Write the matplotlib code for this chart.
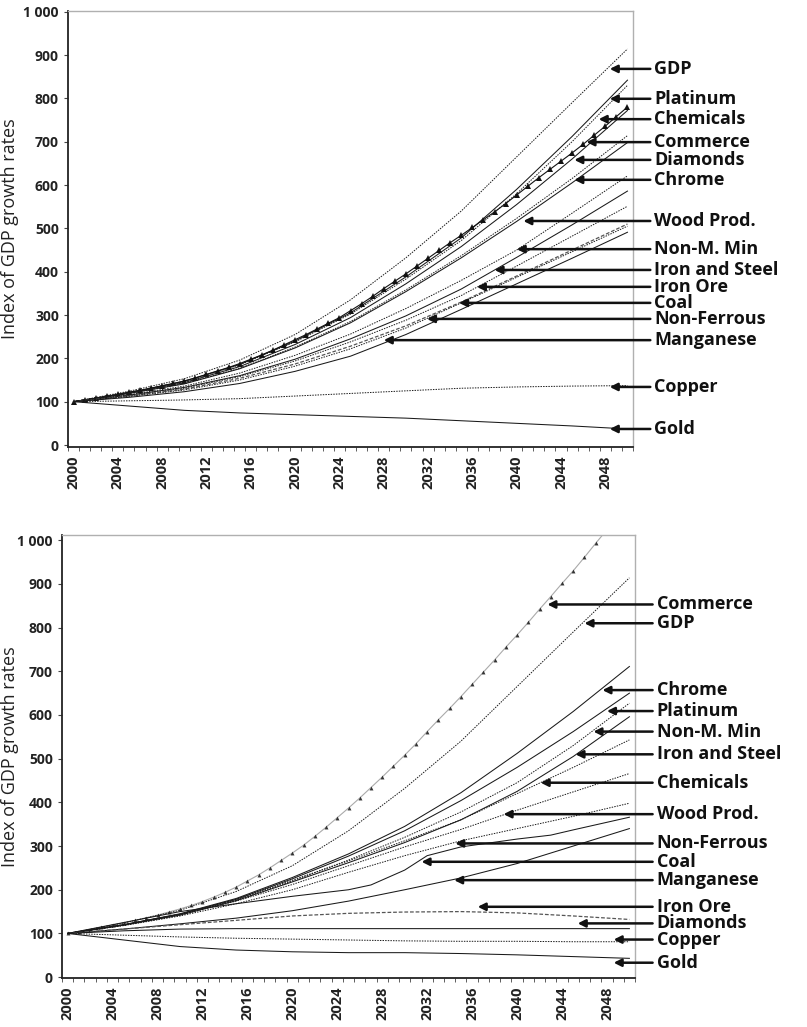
import numpy as np
import matplotlib
matplotlib.use("Agg")
import matplotlib.pyplot as plt
from matplotlib.ticker import FuncFormatter, FixedLocator

plt.rcParams['font.family'] = ['Open Sans', 'DejaVu Sans']

years5 = [2000, 2005, 2010, 2015, 2020, 2025, 2030, 2035, 2040, 2045, 2050]
years1 = list(range(2000, 2051))
years_kink = [2000, 2005, 2010, 2015, 2020, 2025, 2027, 2030, 2032, 2035, 2040, 2043, 2045, 2050]

# ---- top chart ----
top_gdp = [100, 124, 153, 196, 255, 335, 432, 540, 665, 790, 914]
top_platinum = [100, 121, 147, 186, 240, 305, 388, 478, 590, 712, 842]
top_chemicals = [100, 121, 146, 185, 238, 302, 383, 472, 580, 700, 830]
top_commerce = [100, 104, 108, 112, 117, 122, 126, 131, 137, 142, 148, 155, 163,
                171, 179, 188, 198, 208, 219, 231, 243, 255, 268, 281, 294, 310,
                326, 343, 361, 378, 395, 413, 431, 449, 467, 484, 502, 520, 538,
                557, 577, 597, 617, 636, 655, 674, 694, 715, 736, 758, 780]
top_diamonds = [100, 120, 144, 181, 232, 294, 372, 458, 555, 660, 772]
top_chrome = [100, 119, 142, 177, 226, 285, 358, 437, 523, 615, 714]
top_wood = [100, 119, 141, 176, 224, 282, 354, 432, 516, 605, 698]
top_nonm = [100, 116, 136, 166, 207, 256, 315, 380, 450, 535, 621]
top_steel = [100, 115, 133, 160, 198, 245, 298, 360, 433, 508, 586]
top_ironore = [100, 114, 131, 158, 194, 238, 288, 345, 413, 482, 551]
top_coal = [100, 113, 129, 154, 187, 228, 275, 330, 390, 450, 510]
top_nonferrous = [100, 112, 127, 150, 182, 222, 270, 328, 387, 446, 505]
top_manganese = [100, 110, 123, 142, 170, 205, 255, 313, 372, 431, 491]
top_copper = [100, 102, 104, 107, 113, 119, 125, 131, 134, 136, 137]
top_gold = [100, 90, 80, 74, 70, 66, 62, 56, 50, 44, 37]

top_labels = ["GDP", "Platinum", "Chemicals", "Commerce", "Diamonds", "Chrome",
              "Wood Prod.", "Non-M. Min", "Iron and Steel", "Iron Ore", "Coal",
              "Non-Ferrous", "Manganese", "Copper", "Gold"]
top_tip_year = [2048.4, 2048.4, 2047.4, 2046.3, 2045.2, 2045.2, 2040.6, 2040.0,
                2038.0, 2036.4, 2034.8, 2031.9, 2028.0, 2048.4, 2048.4]
top_tip_value = [868, 799, 752, 699, 658, 612, 517, 452, 404, 365, 328, 291, 242, 134, 37]

# ---- bottom chart ----
bot_commerce = [100, 104, 109, 114, 119, 124, 130, 136, 142, 149, 156, 164, 173,
                183, 194, 206, 220, 234, 250, 267, 284, 302, 322, 343, 365, 387,
                410, 434, 458, 483, 508, 534, 562, 589, 615, 642, 670, 698, 726,
                755, 783, 812, 842, 871, 901, 930, 961, 993, 1024, 1055, 1087]
bot_gdp = [100, 124, 153, 196, 255, 335, 432, 540, 665, 790, 914]
bot_chrome = [100, 120, 145, 180, 228, 282, 345, 422, 512, 608, 711]
bot_platinum = [100, 120, 144, 178, 225, 277, 335, 404, 480, 562, 650]
bot_nonm = [100, 119, 143, 176, 220, 268, 320, 378, 445, 530, 627]
bot_steel = [100, 119, 142, 175, 218, 262, 308, 360, 425, 505, 596]
bot_chemicals = [100, 120, 144, 178, 222, 266, 312, 360, 420, 480, 543]
bot_wood = [100, 119, 142, 174, 212, 255, 298, 338, 382, 424, 466]
bot_nonferrous = [100, 118, 140, 168, 200, 240, 278, 312, 340, 368, 398]
bot_coal = [100, 125, 150, 168, 185, 200, 211, 245, 278, 298, 316, 325, 337, 366]
bot_manganese = [100, 110, 122, 135, 152, 174, 200, 227, 260, 300, 340]
bot_ironore = [100, 110, 120, 130, 140, 146, 149, 150, 147, 140, 132]
bot_diamonds = [100, 106, 110, 111, 111, 111, 111, 111, 111, 111, 111]
bot_copper = [100, 96, 92, 89, 87, 85, 83, 82, 82, 81, 81]
bot_gold = [100, 85, 70, 62, 58, 56, 56, 54, 51, 47, 43]

bot_labels = ["Commerce", "GDP", "Chrome", "Platinum", "Non-M. Min", "Iron and Steel",
              "Chemicals", "Wood Prod.", "Non-Ferrous", "Coal", "Manganese",
              "Iron Ore", "Diamonds", "Copper", "Gold"]
bot_tip_year = [2042.7, 2046.0, 2047.6, 2048.0, 2046.8, 2045.2, 2042.1, 2038.8,
                2034.5, 2031.5, 2034.4, 2036.5, 2045.4, 2048.6, 2048.6]
bot_tip_value = [853, 810, 657, 609, 562, 510, 445, 373, 306, 264, 222, 161, 123, 86, 33]

SOLID = dict(color='#1a1a1a', lw=0.75, ls='-')
DOT = dict(color='#1a1a1a', lw=0.7, ls=(0, (1.5, 1.2)))
DASH = dict(color='#555555', lw=0.9, ls=(0, (3, 1.5)))


def style_axes(ax, ylim, label_x):
    ax.set_xlim(1999.5, 2050.5)
    ax.set_ylim(*ylim)
    for s in ['top', 'right']:
        ax.spines[s].set_color('#b0b0b0')
        ax.spines[s].set_linewidth(1.0)
    for s in ['left', 'bottom']:
        ax.spines[s].set_color('#222222')
        ax.spines[s].set_linewidth(1.3)
    ax.set_yticks(range(0, 1001, 100))
    ax.yaxis.set_major_formatter(FuncFormatter(lambda v, p: f"{int(v):,}".replace(',', ' ')))
    ax.xaxis.set_major_locator(FixedLocator(list(range(2000, 2049, 4))))
    ax.xaxis.set_minor_locator(FixedLocator([y + 0.5 for y in range(1999, 2051)]))
    ax.tick_params(axis='x', which='major', length=0, pad=6, labelrotation=90,
                   labelsize=10.5, labelcolor='#222222')
    ax.tick_params(axis='x', which='minor', length=3, width=0.6, color='#444444')
    ax.tick_params(axis='y', length=3, width=0.8, color='#444444', labelsize=10,
                   labelcolor='#222222')
    for lab in ax.get_xticklabels() + ax.get_yticklabels():
        lab.set_fontweight('bold')
    ax.set_ylabel("Index of GDP growth rates", fontsize=13, color='#222222')
    ax.yaxis.set_label_coords(label_x, 0.5)


def add_labels(ax, labels, tip_year, tip_value):
    for lab, yr, val in zip(labels, tip_year, tip_value):
        ax.annotate(lab, xy=(yr, val), xycoords='data',
                    xytext=(1.038, val), textcoords=ax.get_yaxis_transform(),
                    ha='left', va='center', fontsize=13, fontweight='bold',
                    color='#111111', annotation_clip=False,
                    arrowprops=dict(arrowstyle='-|>', color='#111111', lw=1.8,
                                    mutation_scale=11, shrinkA=1, shrinkB=0))


def main():
    fig = plt.figure(figsize=(8.07, 10.27), dpi=100)
    ax1 = fig.add_axes([68 / 807, 1 - 447 / 1027, 565 / 807, 436 / 1027])
    ax2 = fig.add_axes([62 / 807, 1 - 978 / 1027, 573 / 807, 443 / 1027])

    # top chart
    ax1.plot(years5, top_gdp, **DOT)
    ax1.plot(years5, top_platinum, **SOLID)
    ax1.plot(years5, top_chemicals, **DOT)
    ax1.plot(years1, top_commerce, color='#111111', lw=0.8, marker='^', ms=4.5,
             markerfacecolor='#111111', markeredgewidth=0)
    ax1.plot(years5, top_diamonds, **SOLID)
    ax1.plot(years5, top_chrome, **DOT)
    ax1.plot(years5, top_wood, **SOLID)
    ax1.plot(years5, top_nonm, **DOT)
    ax1.plot(years5, top_steel, **SOLID)
    ax1.plot(years5, top_ironore, **DOT)
    ax1.plot(years5, top_coal, **DASH)
    ax1.plot(years5, top_nonferrous, **DOT)
    ax1.plot(years5, top_manganese, **SOLID)
    ax1.plot(years5, top_copper, **DOT)
    ax1.plot(years5, top_gold, **SOLID)
    style_axes(ax1, (-4.6, 1001.6), (19 - 68) / 565)
    add_labels(ax1, top_labels, top_tip_year, top_tip_value)

    # bottom chart
    ax2.plot(years1, bot_commerce, color='#aaaaaa', lw=0.8, marker='^', ms=2.8,
             markerfacecolor='#333333', markeredgewidth=0)
    ax2.plot(years5, bot_gdp, **DOT)
    ax2.plot(years5, bot_chrome, **SOLID)
    ax2.plot(years5, bot_platinum, **SOLID)
    ax2.plot(years5, bot_nonm, **DOT)
    ax2.plot(years5, bot_steel, **SOLID)
    ax2.plot(years5, bot_chemicals, **DOT)
    ax2.plot(years5, bot_wood, **DOT)
    ax2.plot(years5, bot_nonferrous, **DOT)
    ax2.plot(years_kink, bot_coal, **SOLID)
    ax2.plot(years5, bot_manganese, **SOLID)
    ax2.plot(years5, bot_ironore, **DASH)
    ax2.plot(years5, bot_diamonds, **SOLID)
    ax2.plot(years5, bot_copper, **DOT)
    ax2.plot(years5, bot_gold, **SOLID)
    style_axes(ax2, (-2, 1012), (19 - 62) / 573)
    add_labels(ax2, bot_labels, bot_tip_year, bot_tip_value)

    fig.savefig("out.png", dpi=100)


if __name__ == "__main__":
    main()
